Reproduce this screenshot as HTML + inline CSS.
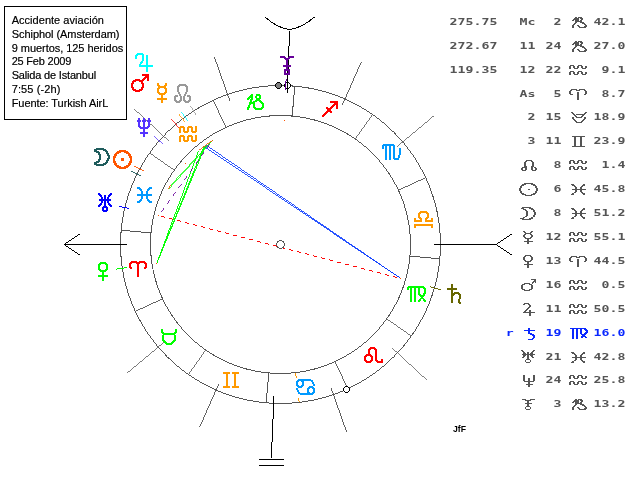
<!DOCTYPE html>
<html lang="es">
<head>
<meta charset="utf-8">
<title>Accidente aviación Schiphol (Amsterdam)</title>
<style>
html,body{margin:0;padding:0;background:#fff;}
body{width:640px;height:480px;overflow:hidden;}
svg{display:block;}
</style>
</head>
<body>
<svg width="640" height="480" viewBox="0 0 640 480" shape-rendering="crispEdges" style="will-change:transform">
<defs><filter id="crisp" x="0" y="0" width="640" height="480" filterUnits="userSpaceOnUse" color-interpolation-filters="sRGB"><feComponentTransfer><feFuncA type="gamma" exponent="0.7" amplitude="1" offset="0"/></feComponentTransfer></filter></defs>
<rect width="640" height="480" fill="#ffffff"/>
<path d="M441,244.5 L440.78,252.85 L440.12,261.17 L439.02,269.45 L437.49,277.66 L435.52,285.78 L433.13,293.78 L430.31,301.65 L427.09,309.36 L423.46,316.89 L419.44,324.22 L415.04,331.33 L410.27,338.2 L405.15,344.81 L399.68,351.14 L393.89,357.19 L387.81,362.94 L381.44,368.37 L374.79,373.47 L367.87,378.21 L360.72,382.58 L353.34,386.57 L345.76,390.18 L338.01,393.38 L330.09,396.18 L322.04,398.55 L313.87,400.51 L305.61,402.04 L297.28,403.13 L288.9,403.79 L280.5,404 L272.1,403.79 L263.72,403.13 L255.39,402.04 L247.13,400.51 L238.96,398.55 L230.91,396.18 L222.99,393.38 L215.24,390.18 L207.66,386.57 L200.28,382.58 L193.13,378.21 L186.21,373.47 L179.56,368.37 L173.19,362.94 L167.11,357.19 L161.32,351.14 L155.85,344.81 L150.73,338.2 L145.96,331.33 L141.56,324.22 L137.54,316.89 L133.91,309.36 L130.69,301.65 L127.87,293.78 L125.48,285.78 L123.51,277.66 L121.98,269.45 L120.88,261.17 L120.22,252.85 L120,244.5 L120.22,236.15 L120.88,227.83 L121.98,219.55 L123.51,211.34 L125.48,203.22 L127.87,195.22 L130.69,187.35 L133.91,179.64 L137.54,172.11 L141.56,164.78 L145.96,157.67 L150.73,150.8 L155.85,144.19 L161.32,137.86 L167.11,131.81 L173.19,126.06 L179.56,120.63 L186.21,115.53 L193.13,110.79 L200.28,106.42 L207.66,102.43 L215.24,98.82 L222.99,95.62 L230.91,92.82 L238.96,90.45 L247.13,88.49 L255.39,86.96 L263.72,85.87 L272.1,85.21 L280.5,85 L288.9,85.21 L297.28,85.87 L305.61,86.96 L313.87,88.49 L322.04,90.45 L330.09,92.82 L338.01,95.62 L345.76,98.82 L353.34,102.43 L360.72,106.42 L367.87,110.79 L374.79,115.53 L381.44,120.63 L387.81,126.06 L393.89,131.81 L399.68,137.86 L405.15,144.19 L410.27,150.8 L415.04,157.67 L419.44,164.78 L423.46,172.11 L427.09,179.64 L430.31,187.35 L433.13,195.22 L435.52,203.22 L437.49,211.34 L439.02,219.55 L440.12,227.83 L440.78,236.15 Z M440,244.5 L439.78,252.79 L439.12,261.07 L438.04,269.29 L436.52,277.45 L434.58,285.53 L432.21,293.48 L429.43,301.31 L426.25,308.98 L422.66,316.48 L418.69,323.78 L414.33,330.87 L409.61,337.72 L404.54,344.31 L399.12,350.64 L393.38,356.67 L387.31,362.38 L380.94,367.76 L374.31,372.8 L367.41,377.49 L360.28,381.82 L352.93,385.77 L345.39,389.33 L337.67,392.5 L329.79,395.26 L321.79,397.61 L313.66,399.54 L305.45,401.05 L297.17,402.13 L288.85,402.78 L280.5,403 L272.15,402.78 L263.83,402.13 L255.55,401.05 L247.34,399.54 L239.21,397.61 L231.21,395.26 L223.33,392.5 L215.61,389.33 L208.07,385.77 L200.72,381.82 L193.59,377.49 L186.69,372.8 L180.06,367.76 L173.69,362.38 L167.62,356.67 L161.88,350.64 L156.46,344.31 L151.39,337.72 L146.67,330.87 L142.31,323.78 L138.34,316.48 L134.75,308.98 L131.57,301.31 L128.79,293.48 L126.42,285.53 L124.48,277.45 L122.96,269.29 L121.88,261.07 L121.22,252.79 L121,244.5 L121.22,236.21 L121.88,227.93 L122.96,219.71 L124.48,211.55 L126.42,203.47 L128.79,195.52 L131.57,187.69 L134.75,180.02 L138.34,172.52 L142.31,165.22 L146.67,158.13 L151.39,151.28 L156.46,144.69 L161.88,138.36 L167.62,132.33 L173.69,126.62 L180.06,121.24 L186.69,116.2 L193.59,111.51 L200.72,107.18 L208.07,103.23 L215.61,99.67 L223.33,96.5 L231.21,93.74 L239.21,91.39 L247.34,89.46 L255.55,87.95 L263.83,86.87 L272.15,86.22 L280.5,86 L288.85,86.22 L297.17,86.87 L305.45,87.95 L313.66,89.46 L321.79,91.39 L329.79,93.74 L337.67,96.5 L345.39,99.67 L352.93,103.23 L360.28,107.18 L367.41,111.51 L374.31,116.2 L380.94,121.24 L387.31,126.62 L393.38,132.33 L399.12,138.36 L404.54,144.69 L409.61,151.28 L414.33,158.13 L418.69,165.22 L422.66,172.52 L426.25,180.02 L429.43,187.69 L432.21,195.52 L434.58,203.47 L436.52,211.55 L438.04,219.71 L439.12,227.93 L439.78,236.21 Z" fill="#555555" fill-rule="evenodd" stroke="none"/>
<path d="M411,244.5 L410.83,251.28 L410.29,258.04 L409.39,264.76 L408.14,271.42 L406.54,278.01 L404.59,284.51 L402.31,290.9 L399.68,297.16 L396.73,303.27 L393.46,309.22 L389.88,314.99 L386,320.57 L381.83,325.93 L377.39,331.07 L372.68,335.97 L367.74,340.65 L362.56,345.06 L357.15,349.2 L351.53,353.05 L345.72,356.6 L339.72,359.84 L333.56,362.77 L327.26,365.37 L320.82,367.64 L314.27,369.58 L307.63,371.16 L300.91,372.4 L294.14,373.29 L287.33,373.83 L280.5,374 L273.67,373.83 L266.86,373.29 L260.09,372.4 L253.37,371.16 L246.73,369.58 L240.18,367.64 L233.74,365.37 L227.44,362.77 L221.28,359.84 L215.28,356.6 L209.47,353.05 L203.85,349.2 L198.44,345.06 L193.26,340.65 L188.32,335.97 L183.61,331.07 L179.17,325.93 L175,320.57 L171.12,314.99 L167.54,309.22 L164.27,303.27 L161.32,297.16 L158.69,290.9 L156.41,284.51 L154.46,278.01 L152.86,271.42 L151.61,264.76 L150.71,258.04 L150.17,251.28 L150,244.5 L150.17,237.72 L150.71,230.96 L151.61,224.24 L152.86,217.58 L154.46,210.99 L156.41,204.49 L158.69,198.1 L161.32,191.84 L164.27,185.73 L167.54,179.78 L171.12,174.01 L175,168.43 L179.17,163.07 L183.61,157.93 L188.32,153.03 L193.26,148.35 L198.44,143.94 L203.85,139.8 L209.47,135.95 L215.28,132.4 L221.28,129.16 L227.44,126.23 L233.74,123.63 L240.18,121.36 L246.73,119.42 L253.37,117.84 L260.09,116.6 L266.86,115.71 L273.67,115.17 L280.5,115 L287.33,115.17 L294.14,115.71 L300.91,116.6 L307.63,117.84 L314.27,119.42 L320.82,121.36 L327.26,123.63 L333.56,126.23 L339.72,129.16 L345.72,132.4 L351.53,135.95 L357.15,139.8 L362.56,143.94 L367.74,148.35 L372.68,153.03 L377.39,157.93 L381.83,163.07 L386,168.43 L389.88,174.01 L393.46,179.78 L396.73,185.73 L399.68,191.84 L402.31,198.1 L404.59,204.49 L406.54,210.99 L408.14,217.58 L409.39,224.24 L410.29,230.96 L410.83,237.72 Z M410,244.5 L409.82,251.22 L409.29,257.93 L408.41,264.6 L407.18,271.22 L405.6,277.76 L403.68,284.21 L401.43,290.56 L398.84,296.78 L395.93,302.86 L392.71,308.78 L389.17,314.53 L385.34,320.08 L381.22,325.43 L376.83,330.57 L372.17,335.46 L367.24,340.08 L362.06,344.44 L356.67,348.53 L351.07,352.33 L345.28,355.84 L339.32,359.04 L333.19,361.92 L326.92,364.49 L320.52,366.73 L314.02,368.63 L307.43,370.2 L300.76,371.42 L294.04,372.29 L287.28,372.82 L280.5,373 L273.72,372.82 L266.96,372.29 L260.24,371.42 L253.57,370.2 L246.98,368.63 L240.48,366.73 L234.08,364.49 L227.81,361.92 L221.68,359.04 L215.72,355.84 L209.93,352.33 L204.33,348.53 L198.94,344.44 L193.76,340.08 L188.83,335.46 L184.17,330.57 L179.78,325.43 L175.66,320.08 L171.83,314.53 L168.29,308.78 L165.07,302.86 L162.16,296.78 L159.57,290.56 L157.32,284.21 L155.4,277.76 L153.82,271.22 L152.59,264.6 L151.71,257.93 L151.18,251.22 L151,244.5 L151.18,237.78 L151.71,231.07 L152.59,224.4 L153.82,217.78 L155.4,211.24 L157.32,204.79 L159.57,198.44 L162.16,192.22 L165.07,186.14 L168.29,180.22 L171.83,174.47 L175.66,168.92 L179.78,163.57 L184.17,158.43 L188.83,153.54 L193.76,148.92 L198.94,144.56 L204.33,140.47 L209.93,136.67 L215.72,133.16 L221.68,129.96 L227.81,127.08 L234.08,124.51 L240.48,122.27 L246.98,120.37 L253.57,118.8 L260.24,117.58 L266.96,116.71 L273.72,116.18 L280.5,116 L287.28,116.18 L294.04,116.71 L300.76,117.58 L307.43,118.8 L314.02,120.37 L320.52,122.27 L326.92,124.51 L333.19,127.08 L339.32,129.96 L345.28,133.16 L351.07,136.67 L356.67,140.47 L362.06,144.56 L367.24,148.92 L372.17,153.54 L376.83,158.43 L381.22,163.57 L385.34,168.92 L389.17,174.47 L392.71,180.22 L395.93,186.14 L398.84,192.22 L401.43,198.44 L403.68,204.79 L405.6,211.24 L407.18,217.78 L408.41,224.4 L409.29,231.07 L409.82,237.78 Z" fill="#555555" fill-rule="evenodd" stroke="none"/>
<line x1="151.02" y1="232.91" x2="121.14" y2="230.24" stroke="#555555" stroke-width="1.001"/>
<line x1="162.54" y1="298.8" x2="135.32" y2="311.33" stroke="#555555" stroke-width="0.913"/>
<line x1="205.67" y1="350.14" x2="188.4" y2="374.51" stroke="#555555" stroke-width="0.821"/>
<line x1="268.84" y1="373.17" x2="266.15" y2="402.86" stroke="#555555" stroke-width="1.001"/>
<line x1="335.14" y1="361.72" x2="347.75" y2="388.77" stroke="#555555" stroke-width="0.911"/>
<line x1="386.8" y1="318.87" x2="411.33" y2="336.03" stroke="#555555" stroke-width="0.824"/>
<line x1="409.98" y1="256.09" x2="439.86" y2="258.76" stroke="#555555" stroke-width="1.001"/>
<line x1="398.46" y1="190.2" x2="425.68" y2="177.67" stroke="#555555" stroke-width="0.913"/>
<line x1="355.33" y1="138.86" x2="372.6" y2="114.49" stroke="#555555" stroke-width="0.821"/>
<line x1="292.16" y1="115.83" x2="294.85" y2="86.14" stroke="#555555" stroke-width="1.001"/>
<line x1="225.86" y1="127.28" x2="213.25" y2="100.23" stroke="#555555" stroke-width="0.911"/>
<line x1="174.2" y1="170.13" x2="149.67" y2="152.97" stroke="#555555" stroke-width="0.824"/>
<line x1="229.92" y1="101.01" x2="214.28" y2="56.64" stroke="#555555" stroke-width="0.948"/>
<line x1="331.08" y1="387.99" x2="346.72" y2="432.36" stroke="#555555" stroke-width="0.948"/>
<line x1="168.59" y1="140.82" x2="133.99" y2="108.77" stroke="#555555" stroke-width="0.739"/>
<line x1="392.41" y1="348.18" x2="427.01" y2="380.23" stroke="#555555" stroke-width="0.739"/>
<line x1="163.59" y1="342.58" x2="127.44" y2="372.9" stroke="#555555" stroke-width="0.771"/>
<line x1="397.41" y1="146.42" x2="433.56" y2="116.1" stroke="#555555" stroke-width="0.771"/>
<line x1="218.89" y1="383.67" x2="199.84" y2="426.7" stroke="#555555" stroke-width="0.919"/>
<line x1="342.11" y1="105.33" x2="361.16" y2="62.3" stroke="#555555" stroke-width="0.919"/>
<line x1="205.8" y1="144.9" x2="156.9" y2="263.07" stroke="#00FF00" stroke-width="0.929"/>
<line x1="203.93" y1="146.31" x2="156.9" y2="263.07" stroke="#00FF00" stroke-width="0.933"/>
<line x1="198.72" y1="150.56" x2="156.9" y2="263.07" stroke="#00FF00" stroke-width="0.942"/>
<line x1="170.52" y1="185.45" x2="212.64" y2="140.18" stroke="#00FF00" stroke-width="0.737"/>
<line x1="168.43" y1="189.48" x2="212.64" y2="140.18" stroke="#00FF00" stroke-width="0.749"/>
<line x1="400.73" y1="278.49" x2="158.92" y2="215.65" stroke="#FF0000" stroke-width="0.973" stroke-dasharray="4.133 4.133" stroke-dashoffset="4.133"/>
<line x1="205.8" y1="144.9" x2="400.73" y2="278.49" stroke="#0033FF" stroke-width="0.83"/>
<line x1="203.93" y1="146.31" x2="400.73" y2="278.49" stroke="#0033FF" stroke-width="0.835"/>
<line x1="158.92" y1="215.65" x2="212.64" y2="140.18" stroke="#660099" stroke-width="0.82" stroke-dasharray="4.91 4.91" stroke-dashoffset="4.91"/>
<line x1="212.64" y1="140.18" x2="198.72" y2="150.56" stroke="#FF5500" stroke-width="0.807"/>
<line x1="170.52" y1="185.45" x2="168.43" y2="189.48" stroke="#FF5500" stroke-width="0.892"/>
<rect x="185" y="163" width="1" height="1" fill="#FF5500"/>
<rect x="158" y="215" width="1" height="1" fill="#FF5500"/>
<rect x="284" y="120" width="1" height="1" fill="#FF5500"/>
<rect x="156" y="263" width="1" height="1" fill="#FF5500"/>
<rect x="400" y="278" width="1" height="1" fill="#FF5500"/>
<line x1="295.68" y1="372.8" x2="296.32" y2="378.23" stroke="#FF9900" stroke-width="0.998"/>
<line x1="298.66" y1="397.97" x2="299.18" y2="402.41" stroke="#FF9900" stroke-width="0.998"/>
<path d="M277,83h3v1h-3zM276,84h5v1h-5zM276,85h5v1h-5zM276,86h5v1h-5zM277,87h3v1h-3z" fill="#808080"/>
<path d="M277,82h3v1h-3zM276,83h1v1h-1zM280,83h1v1h-1zM275,84h1v1h-1zM281,84h1v1h-1zM275,85h1v1h-1zM281,85h1v1h-1zM275,86h1v1h-1zM281,86h1v1h-1zM276,87h1v1h-1zM280,87h1v1h-1zM277,88h3v1h-3z" fill="#000000"/>
<path d="M286,83h3v1h-3zM285,84h5v1h-5zM285,85h5v1h-5zM285,86h5v1h-5zM286,87h3v1h-3z" fill="#ffffff"/>
<path d="M286,82h3v1h-3zM285,83h1v1h-1zM289,83h1v1h-1zM284,84h1v1h-1zM290,84h1v1h-1zM284,85h1v1h-1zM290,85h1v1h-1zM284,86h1v1h-1zM290,86h1v1h-1zM285,87h1v1h-1zM289,87h1v1h-1zM286,88h3v1h-3z" fill="#000000"/>
<path d="M345,387h3v1h-3zM344,388h5v1h-5zM344,389h5v1h-5zM344,390h5v1h-5zM345,391h3v1h-3z" fill="#ffffff"/>
<path d="M345,386h3v1h-3zM344,387h1v1h-1zM348,387h1v1h-1zM343,388h1v1h-1zM349,388h1v1h-1zM343,389h1v1h-1zM349,389h1v1h-1zM343,390h1v1h-1zM349,390h1v1h-1zM344,391h1v1h-1zM348,391h1v1h-1zM345,392h3v1h-3z" fill="#000000"/>
<line x1="126.5" y1="244.5" x2="64" y2="244.5" stroke="#000000" stroke-width="1.005"/>
<line x1="64" y1="244.5" x2="80.5" y2="233.5" stroke="#000000" stroke-width="1.003"/>
<line x1="64" y1="244.5" x2="80.5" y2="255.5" stroke="#000000" stroke-width="1.003"/>
<line x1="433.5" y1="244.5" x2="496" y2="244.5" stroke="#000000" stroke-width="1.005"/>
<line x1="496" y1="244.5" x2="512.5" y2="233.5" stroke="#000000" stroke-width="1.003"/>
<line x1="496" y1="244.5" x2="512.5" y2="255.5" stroke="#000000" stroke-width="1.003"/>
<line x1="287.02" y1="92.59" x2="289.69" y2="30.54" stroke="#000000" stroke-width="1.004"/>
<line x1="273.98" y1="396.41" x2="271.31" y2="458.46" stroke="#000000" stroke-width="1.004"/>
<path d="M265,17 Q277,28 289.5,29.5 Q302,28 314.5,17" fill="none" stroke="#000" stroke-width="1"/>
<line x1="259" y1="459.5" x2="284" y2="459.5" stroke="#000000" stroke-width="1.005"/>
<line x1="259" y1="465.5" x2="284" y2="465.5" stroke="#000000" stroke-width="1.005"/>
<path d="M138,276 L138,264 L136,262 L132,262 L130,264 L130,267 L131,268 M138,264 L140,262 L144,262 L146,264 L146,267 L145,268" fill="none" stroke="#FF0000" stroke-width="2" stroke-linejoin="round" stroke-linecap="square"/>
<path d="M162,330 L162,332 L164,334 L174,334 L176,332 L176,330 M164,334 L163,336 L163,340 L167,344 L171,344 L175,340 L175,336 L174,334" fill="none" stroke="#00FF00" stroke-width="2" stroke-linejoin="round" stroke-linecap="square"/>
<path d="M224,373 L229,373 M224,387 L229,387 M227,373 L227,387 M233,373 L238,373 M233,387 L238,387 M235,373 L235,387" fill="none" stroke="#FF9900" stroke-width="2" stroke-linejoin="round" stroke-linecap="square"/>
<path d="M301,380 L303,382 L303,385 L301,387 L299,387 L297,385 L297,382 L299,380 L310,380 L312,381 L313,383 L314,385 M310,394 L308,392 L308,389 L310,387 L312,387 L314,389 L314,392 L312,394 L301,394 L299,393 L298,391 L297,389" fill="none" stroke="#0099FF" stroke-width="2" stroke-linejoin="round" stroke-linecap="square"/>
<path d="M367,355 L370,355 L372,357 L372,360 L370,362 L367,362 L365,360 L365,357 L367,355 L370,355 M369,355 L369,350 L371,348 L374,348 L376,350 L376,360 L378,362 L382,362 L382,360" fill="none" stroke="#FF0000" stroke-width="2" stroke-linejoin="round" stroke-linecap="square"/>
<path d="M408,289 L408,288 L409,287 L423,287 L425,289 L425,293 L423,296 L419,301 M411,287 L411,301 M415,287 L415,301 M419,287 L419,294 L421,296 L425,301" fill="none" stroke="#00FF00" stroke-width="2" stroke-linejoin="round" stroke-linecap="square"/>
<path d="M415,219 L415,221 L421,221 L421,219 L419,217 L419,214 L421,212 L426,212 L428,214 L428,217 L426,219 L426,221 L432,221 L432,219 M415,227 L415,225 L432,225 L432,227" fill="none" stroke="#FF9900" stroke-width="2" stroke-linejoin="round" stroke-linecap="square"/>
<path d="M383,148 L383,146 L384,145 L393,145 L394,146 L394,158 L395,159 L398,159 L399,157 L400,153 L400,149 M386,145 L386,159 M390,145 L390,159" fill="none" stroke="#0099FF" stroke-width="2" stroke-linejoin="round" stroke-linecap="square"/>
<path d="M323,116 L337,102 M331,102 L337,102 L337,108 M327,108 L331,112" fill="none" stroke="#FF0000" stroke-width="2" stroke-linejoin="round" stroke-linecap="square"/>
<path d="M248,99 L250,97 L252,95 L252,98 L251,101 L248,109 M254,104 L254,107 L256,109 L261,109 L263,107 L263,104 L260,101 L257,99 L256,97 L257,95 L259,95 L260,96 L260,98 L258,100 L252,103" fill="none" stroke="#00FF00" stroke-width="2" stroke-linejoin="round" stroke-linecap="square"/>
<path d="M180,132 L180,128 L181,127 L183,127 L184,128 L184,131 L185,132 L187,132 L188,131 L188,128 L189,127 L191,127 L192,128 L192,131 L193,132 L195,132 L196,131 L196,127 M180,141 L180,137 L181,136 L183,136 L184,137 L184,140 L185,141 L187,141 L188,140 L188,137 L189,136 L191,136 L192,137 L192,140 L193,141 L195,141 L196,140 L196,136" fill="none" stroke="#FF9900" stroke-width="2" stroke-linejoin="round" stroke-linecap="square"/>
<path d="M138,188 L139,188 L141,190 L142,192 L142,198 L141,200 L139,202 L138,202 M151,188 L150,188 L148,190 L147,192 L147,198 L148,200 L150,202 L151,202 M138,195 L151,195" fill="none" stroke="#0099FF" stroke-width="2" stroke-linejoin="round" stroke-linecap="square"/>
<line x1="196.09" y1="114.72" x2="190.11" y2="105.54" stroke="#999999" stroke-width="0.843"/>
<line x1="143.69" y1="171.05" x2="134.01" y2="165.85" stroke="#FF5500" stroke-width="0.886"/>
<line x1="141.09" y1="176.05" x2="131.22" y2="171.21" stroke="#1F5C5C" stroke-width="0.903"/>
<line x1="185.25" y1="122.35" x2="178.51" y2="113.71" stroke="#FF9900" stroke-width="0.794"/>
<line x1="126.75" y1="267.6" x2="115.87" y2="269.23" stroke="#00FF00" stroke-width="0.994"/>
<line x1="178.76" y1="127.63" x2="171.57" y2="119.37" stroke="#FF0000" stroke-width="0.759"/>
<line x1="187.58" y1="120.6" x2="181" y2="111.83" stroke="#00FFFF" stroke-width="0.805"/>
<line x1="430.07" y1="286.78" x2="440.65" y2="289.77" stroke="#666600" stroke-width="0.967"/>
<line x1="129.25" y1="208.61" x2="118.55" y2="206.07" stroke="#0000FF" stroke-width="0.978"/>
<line x1="162.64" y1="143.7" x2="154.3" y2="136.57" stroke="#5533FF" stroke-width="0.765"/>
<line x1="285.72" y1="90.06" x2="286.09" y2="79.13" stroke="#660099" stroke-width="1.004"/>
<path d="M177,96 L176,96 L175,97 L175,100 L177,102 L179,102 L181,100 L181,97 L179,93 L178,91 L178,87 L180,85 L185,85 L187,87 L187,91 L186,93 L184,97 L184,100 L186,102 L188,102 L190,100 L190,97 L189,96 L188,96" fill="none" stroke="#999999" stroke-width="2" stroke-linejoin="round" stroke-linecap="square"/>
<circle cx="122.5" cy="159.5" r="8.5" fill="none" stroke="#FF5500" stroke-width="2.4"/>
<rect x="121" y="158" width="3" height="3" fill="#FF5500"/>
<path d="" fill="none" stroke="#FF5500" stroke-width="2" stroke-linejoin="round" stroke-linecap="square"/>
<path d="M95,151 L95,150 L98,149 L103,149 L106,151 L108,154 L109,157 L108,160 L106,163 L103,165 L98,165 L95,164 L95,163 L98,162 L100,159 L100,155 L98,152 L95,151" fill="none" stroke="#1F5C5C" stroke-width="2" stroke-linejoin="round" stroke-linecap="square"/>
<path d="M160,87 L164,87 L166,89 L166,92 L164,94 L160,94 L158,92 L158,89 L160,87 L164,87 M158,84 L158,85 L160,87 M166,84 L166,85 L164,87 M162,94 L162,102 M158,99 L166,99" fill="none" stroke="#FF9900" stroke-width="2" stroke-linejoin="round" stroke-linecap="square"/>
<path d="M101,263 L105,263 L107,265 L107,269 L105,271 L101,271 L99,269 L99,265 L101,263 L105,263 M103,271 L103,280 M99,276 L107,276" fill="none" stroke="#00FF00" stroke-width="2" stroke-linejoin="round" stroke-linecap="square"/>
<circle cx="137.5" cy="85.5" r="5.5" fill="none" stroke="#FF0000" stroke-width="2.4"/>
<path d="M142,81 L148,75 M143,75 L148,75 L148,80" fill="none" stroke="#FF0000" stroke-width="2" stroke-linejoin="round" stroke-linecap="square"/>
<path d="M136,58 L136,56 L138,54 L142,54 L143,55 L143,60 L140,65 L140,66 L152,66 M147,56 L147,71" fill="none" stroke="#00FFFF" stroke-width="2" stroke-linejoin="round" stroke-linecap="square"/>
<path d="M452,285 L452,302 M448,289 L456,289 M452,296 L454,294 L455,293 L458,293 L460,295 L460,298 L459,300 L459,302 L460,303" fill="none" stroke="#666600" stroke-width="2" stroke-linejoin="round" stroke-linecap="square"/>
<path d="M99,194 L101,196 L102,198 L102,202 L101,204 L99,206 M111,194 L109,196 L108,198 L108,202 L109,204 L111,206 M100,200 L110,200 M105,196 L105,206 M104,207 L106,207 L107,208 L107,210 L106,211 L104,211 L103,210 L103,208 L104,207 L106,207" fill="none" stroke="#0000FF" stroke-width="2" stroke-linejoin="round" stroke-linecap="square"/>
<path d="M139,119 L139,126 L141,128 L147,128 L149,126 L149,119 M144,119 L144,136 M141,133 L147,133 M138,121 L140,121 M143,121 L145,121 M148,121 L150,121" fill="none" stroke="#5533FF" stroke-width="2" stroke-linejoin="round" stroke-linecap="square"/>
<path d="M281,57 L284,57 L287,60 L290,57 L293,57 M287,60 L287,69 M284,66 L290,66 M285,70 L289,70 L289,74 L285,74 L285,70 L289,70" fill="none" stroke="#660099" stroke-width="2" stroke-linejoin="round" stroke-linecap="square"/>
<path d="M278,241h5v1h-5zM278,242h5v1h-5zM277,243h7v1h-7zM277,244h7v1h-7zM277,245h7v1h-7zM278,246h5v1h-5zM278,247h5v1h-5z" fill="#ffffff"/>
<path d="M279,240h3v1h-3zM277,241h2v1h-2zM282,241h2v1h-2zM277,242h1v1h-1zM283,242h1v1h-1zM276,243h1v1h-1zM284,243h1v1h-1zM276,244h1v1h-1zM284,244h1v1h-1zM276,245h1v1h-1zM284,245h1v1h-1zM277,246h1v1h-1zM283,246h1v1h-1zM277,247h2v1h-2zM282,247h2v1h-2zM279,248h3v1h-3z" fill="#555555"/>
<rect x="4.5" y="6.5" width="122" height="113" fill="#ffffff" stroke="#000" stroke-width="1"/>
<g font-family="'Liberation Sans', Arial, sans-serif" font-size="11px" fill="#000" filter="url(#crisp)">
<text x="11.7" y="24" textLength="92.2" lengthAdjust="spacing">Accidente aviación</text>
<text x="11.7" y="37.83" textLength="107.8" lengthAdjust="spacing">Schiphol (Amsterdam)</text>
<text x="11.7" y="51.66" textLength="111.5" lengthAdjust="spacing">9 muertos, 125 heridos</text>
<text x="11.7" y="65.49" textLength="59.6" lengthAdjust="spacing">25 Feb 2009</text>
<text x="11.7" y="79.32" textLength="84.45" lengthAdjust="spacing">Salida de Istanbul</text>
<text x="11.7" y="93.15" textLength="48.7" lengthAdjust="spacing">7:55 (-2h)</text>
<text x="11.7" y="106.98" textLength="96.6" lengthAdjust="spacing">Fuente: Turkish AirL</text>
</g>
<g font-family="'DejaVu Sans Mono', 'Liberation Mono', monospace" font-size="9.3px" font-weight="bold">
<text transform="scale(1.42,1)" x="316.48 322.11 327.75 333.38 339.01 344.65" y="25" fill="#555555">275.75</text>
<text transform="scale(1.42,1)" x="365.77 371.41" y="25" fill="#555555">Mc</text>
<text transform="scale(1.42,1)" x="389.72" y="25" fill="#555555">2</text>
<text transform="scale(1.42,1)" x="417.89 423.52 429.15 434.79" y="25" fill="#555555">42.1</text>
<text transform="scale(1.42,1)" x="316.48 322.11 327.75 333.38 339.01 344.65" y="49" fill="#555555">272.67</text>
<text transform="scale(1.42,1)" x="365.77 371.41" y="49" fill="#555555">11</text>
<text transform="scale(1.42,1)" x="384.08 389.72" y="49" fill="#555555">24</text>
<text transform="scale(1.42,1)" x="417.89 423.52 429.15 434.79" y="49" fill="#555555">27.0</text>
<text transform="scale(1.42,1)" x="316.48 322.11 327.75 333.38 339.01 344.65" y="73" fill="#555555">119.35</text>
<text transform="scale(1.42,1)" x="365.77 371.41" y="73" fill="#555555">12</text>
<text transform="scale(1.42,1)" x="384.08 389.72" y="73" fill="#555555">22</text>
<text transform="scale(1.42,1)" x="423.52 429.15 434.79" y="73" fill="#555555">9.1</text>
<text transform="scale(1.42,1)" x="365.77 371.41" y="97" fill="#555555">As</text>
<text transform="scale(1.42,1)" x="389.72" y="97" fill="#555555">5</text>
<text transform="scale(1.42,1)" x="423.52 429.15 434.79" y="97" fill="#555555">8.7</text>
<text transform="scale(1.42,1)" x="371.41" y="120" fill="#555555">2</text>
<text transform="scale(1.42,1)" x="384.08 389.72" y="120" fill="#555555">15</text>
<text transform="scale(1.42,1)" x="417.89 423.52 429.15 434.79" y="120" fill="#555555">18.9</text>
<text transform="scale(1.42,1)" x="371.41" y="144" fill="#555555">3</text>
<text transform="scale(1.42,1)" x="384.08 389.72" y="144" fill="#555555">11</text>
<text transform="scale(1.42,1)" x="417.89 423.52 429.15 434.79" y="144" fill="#555555">23.9</text>
<text transform="scale(1.42,1)" x="389.72" y="168" fill="#555555">8</text>
<text transform="scale(1.42,1)" x="423.52 429.15 434.79" y="168" fill="#555555">1.4</text>
<text transform="scale(1.42,1)" x="389.72" y="192" fill="#555555">6</text>
<text transform="scale(1.42,1)" x="417.89 423.52 429.15 434.79" y="192" fill="#555555">45.8</text>
<text transform="scale(1.42,1)" x="389.72" y="216" fill="#555555">8</text>
<text transform="scale(1.42,1)" x="417.89 423.52 429.15 434.79" y="216" fill="#555555">51.2</text>
<text transform="scale(1.42,1)" x="384.08 389.72" y="240" fill="#555555">12</text>
<text transform="scale(1.42,1)" x="417.89 423.52 429.15 434.79" y="240" fill="#555555">55.1</text>
<text transform="scale(1.42,1)" x="384.08 389.72" y="264" fill="#555555">13</text>
<text transform="scale(1.42,1)" x="417.89 423.52 429.15 434.79" y="264" fill="#555555">44.5</text>
<text transform="scale(1.42,1)" x="384.08 389.72" y="288" fill="#555555">16</text>
<text transform="scale(1.42,1)" x="423.52 429.15 434.79" y="288" fill="#555555">0.5</text>
<text transform="scale(1.42,1)" x="384.08 389.72" y="312" fill="#555555">11</text>
<text transform="scale(1.42,1)" x="417.89 423.52 429.15 434.79" y="312" fill="#555555">50.5</text>
<text transform="scale(1.42,1)" x="356.2" y="336" fill="#0A28FF">r</text>
<text transform="scale(1.42,1)" x="384.08 389.72" y="336" fill="#0A28FF">19</text>
<text transform="scale(1.42,1)" x="417.89 423.52 429.15 434.79" y="336" fill="#0A28FF">16.0</text>
<text transform="scale(1.42,1)" x="384.08 389.72" y="360" fill="#555555">21</text>
<text transform="scale(1.42,1)" x="417.89 423.52 429.15 434.79" y="360" fill="#555555">42.8</text>
<text transform="scale(1.42,1)" x="384.08 389.72" y="383" fill="#555555">24</text>
<text transform="scale(1.42,1)" x="417.89 423.52 429.15 434.79" y="383" fill="#555555">25.8</text>
<text transform="scale(1.42,1)" x="389.72" y="407" fill="#555555">3</text>
<text transform="scale(1.42,1)" x="417.89 423.52 429.15 434.79" y="407" fill="#555555">13.2</text>
</g>
<path d="M571.5,21.5 L575.5,17.5 L575.5,22.5 L572.5,25.5 L572.5,27.5 M572.5,21.5 L576.5,17.5 L576.5,22.5 L573.5,25.5 L573.5,27.5 M575.5,21.5 L577.5,21.5 L577.5,18.5 L578.5,17.5 L580.5,17.5 L581.5,19.5 L579.5,21.5 L583.5,23.5 L585.5,25.5 L584.5,27.5 L579.5,27.5 L577.5,25.5 M576.5,21.5 L578.5,21.5 L578.5,18.5 L579.5,17.5 L581.5,17.5 L582.5,19.5 L580.5,21.5 L584.5,23.5 L586.5,25.5 L585.5,27.5 L580.5,27.5 L578.5,25.5" fill="none" stroke="#555555" stroke-width="1" stroke-linejoin="miter" stroke-linecap="butt"/>
<path d="M571.5,45.5 L575.5,41.5 L575.5,46.5 L572.5,49.5 L572.5,51.5 M572.5,45.5 L576.5,41.5 L576.5,46.5 L573.5,49.5 L573.5,51.5 M575.5,45.5 L577.5,45.5 L577.5,42.5 L578.5,41.5 L580.5,41.5 L581.5,43.5 L579.5,45.5 L583.5,47.5 L585.5,49.5 L584.5,51.5 L579.5,51.5 L577.5,49.5 M576.5,45.5 L578.5,45.5 L578.5,42.5 L579.5,41.5 L581.5,41.5 L582.5,43.5 L580.5,45.5 L584.5,47.5 L586.5,49.5 L585.5,51.5 L580.5,51.5 L578.5,49.5" fill="none" stroke="#555555" stroke-width="1" stroke-linejoin="miter" stroke-linecap="butt"/>
<path d="M569.5,68.5 L569.5,66.5 L570.5,65.5 L572.5,65.5 L573.5,66.5 L573.5,67.5 L574.5,68.5 L576.5,68.5 L577.5,67.5 L577.5,66.5 L578.5,65.5 L580.5,65.5 L581.5,66.5 L581.5,67.5 L582.5,68.5 L584.5,68.5 L585.5,67.5 L585.5,65.5 M570.5,68.5 L570.5,66.5 L571.5,65.5 L573.5,65.5 L574.5,66.5 L574.5,67.5 L575.5,68.5 L577.5,68.5 L578.5,67.5 L578.5,66.5 L579.5,65.5 L581.5,65.5 L582.5,66.5 L582.5,67.5 L583.5,68.5 L585.5,68.5 L586.5,67.5 L586.5,65.5 M569.5,74.5 L569.5,72.5 L570.5,71.5 L572.5,71.5 L573.5,72.5 L573.5,73.5 L574.5,74.5 L576.5,74.5 L577.5,73.5 L577.5,72.5 L578.5,71.5 L580.5,71.5 L581.5,72.5 L581.5,73.5 L582.5,74.5 L584.5,74.5 L585.5,73.5 L585.5,71.5 M570.5,74.5 L570.5,72.5 L571.5,71.5 L573.5,71.5 L574.5,72.5 L574.5,73.5 L575.5,74.5 L577.5,74.5 L578.5,73.5 L578.5,72.5 L579.5,71.5 L581.5,71.5 L582.5,72.5 L582.5,73.5 L583.5,74.5 L585.5,74.5 L586.5,73.5 L586.5,71.5" fill="none" stroke="#555555" stroke-width="1" stroke-linejoin="miter" stroke-linecap="butt"/>
<path d="M577.5,91.5 L575.5,89.5 L571.5,89.5 L569.5,91.5 L569.5,93.5 L570.5,94.5 L571.5,94.5 M578.5,91.5 L576.5,89.5 L572.5,89.5 L570.5,91.5 L570.5,93.5 L571.5,94.5 L572.5,94.5 M577.5,91.5 L579.5,89.5 L583.5,89.5 L585.5,91.5 L585.5,93.5 L584.5,94.5 L583.5,94.5 M578.5,91.5 L580.5,89.5 L584.5,89.5 L586.5,91.5 L586.5,93.5 L585.5,94.5 L584.5,94.5 M577.5,91.5 L577.5,99.5 M578.5,91.5 L578.5,99.5" fill="none" stroke="#555555" stroke-width="1" stroke-linejoin="miter" stroke-linecap="butt"/>
<path d="M571.5,112.5 L576.5,117.5 L580.5,117.5 L585.5,112.5 M572.5,112.5 L577.5,117.5 L581.5,117.5 L586.5,112.5 M575.5,114.5 L581.5,114.5 M576.5,114.5 L582.5,114.5 M572.5,116.5 L572.5,118.5 L576.5,122.5 L580.5,122.5 L584.5,118.5 L584.5,116.5 M573.5,116.5 L573.5,118.5 L577.5,122.5 L581.5,122.5 L585.5,118.5 L585.5,116.5" fill="none" stroke="#555555" stroke-width="1" stroke-linejoin="miter" stroke-linecap="butt"/>
<path d="M571.5,136.5 L583.5,136.5 M572.5,136.5 L584.5,136.5 M571.5,146.5 L583.5,146.5 M572.5,146.5 L584.5,146.5 M574.5,136.5 L574.5,146.5 M575.5,136.5 L575.5,146.5 M580.5,136.5 L580.5,146.5 M581.5,136.5 L581.5,146.5" fill="none" stroke="#555555" stroke-width="1" stroke-linejoin="miter" stroke-linecap="butt"/>
<path d="M523.5,167.5 L522.5,167.5 L521.5,168.5 L521.5,169.5 L522.5,170.5 L524.5,170.5 L525.5,169.5 L525.5,167.5 L524.5,165.5 L524.5,162.5 L526.5,160.5 L530.5,160.5 L532.5,162.5 L532.5,165.5 L531.5,167.5 L531.5,169.5 L532.5,170.5 L534.5,170.5 L535.5,169.5 L535.5,168.5 L534.5,167.5 L533.5,167.5 M524.5,167.5 L523.5,167.5 L522.5,168.5 L522.5,169.5 L523.5,170.5 L525.5,170.5 L526.5,169.5 L526.5,167.5 L525.5,165.5 L525.5,162.5 L527.5,160.5 L531.5,160.5 L533.5,162.5 L533.5,165.5 L532.5,167.5 L532.5,169.5 L533.5,170.5 L535.5,170.5 L536.5,169.5 L536.5,168.5 L535.5,167.5 L534.5,167.5" fill="none" stroke="#555555" stroke-width="1" stroke-linejoin="miter" stroke-linecap="butt"/>
<path d="M569.5,163.5 L569.5,161.5 L570.5,160.5 L572.5,160.5 L573.5,161.5 L573.5,162.5 L574.5,163.5 L576.5,163.5 L577.5,162.5 L577.5,161.5 L578.5,160.5 L580.5,160.5 L581.5,161.5 L581.5,162.5 L582.5,163.5 L584.5,163.5 L585.5,162.5 L585.5,160.5 M570.5,163.5 L570.5,161.5 L571.5,160.5 L573.5,160.5 L574.5,161.5 L574.5,162.5 L575.5,163.5 L577.5,163.5 L578.5,162.5 L578.5,161.5 L579.5,160.5 L581.5,160.5 L582.5,161.5 L582.5,162.5 L583.5,163.5 L585.5,163.5 L586.5,162.5 L586.5,160.5 M569.5,169.5 L569.5,167.5 L570.5,166.5 L572.5,166.5 L573.5,167.5 L573.5,168.5 L574.5,169.5 L576.5,169.5 L577.5,168.5 L577.5,167.5 L578.5,166.5 L580.5,166.5 L581.5,167.5 L581.5,168.5 L582.5,169.5 L584.5,169.5 L585.5,168.5 L585.5,166.5 M570.5,169.5 L570.5,167.5 L571.5,166.5 L573.5,166.5 L574.5,167.5 L574.5,168.5 L575.5,169.5 L577.5,169.5 L578.5,168.5 L578.5,167.5 L579.5,166.5 L581.5,166.5 L582.5,167.5 L582.5,168.5 L583.5,169.5 L585.5,169.5 L586.5,168.5 L586.5,166.5" fill="none" stroke="#555555" stroke-width="1" stroke-linejoin="miter" stroke-linecap="butt"/>
<ellipse cx="528" cy="189.5" rx="8.5" ry="6" fill="none" stroke="#555555" stroke-width="1"/>
<ellipse cx="529" cy="189.5" rx="8.5" ry="6" fill="none" stroke="#555555" stroke-width="1"/>
<rect x="528" y="189" width="2" height="1" fill="#555555"/>
<path d="" fill="none" stroke="#555555" stroke-width="1" stroke-linejoin="miter" stroke-linecap="butt"/>
<path d="M571.5,189.5 L584.5,189.5 M572.5,189.5 L585.5,189.5 M571.5,184.5 L573.5,185.5 L575.5,187.5 L575.5,191.5 L573.5,193.5 L571.5,194.5 M572.5,184.5 L574.5,185.5 L576.5,187.5 L576.5,191.5 L574.5,193.5 L572.5,194.5 M584.5,184.5 L582.5,185.5 L580.5,187.5 L580.5,191.5 L582.5,193.5 L584.5,194.5 M585.5,184.5 L583.5,185.5 L581.5,187.5 L581.5,191.5 L583.5,193.5 L585.5,194.5" fill="none" stroke="#555555" stroke-width="1" stroke-linejoin="miter" stroke-linecap="butt"/>
<path d="M521.5,208.5 L523.5,207.5 L528.5,207.5 L532.5,209.5 L534.5,212.5 L534.5,214.5 L532.5,217.5 L528.5,219.5 L523.5,219.5 L521.5,218.5 L524.5,217.5 L526.5,215.5 L526.5,211.5 L524.5,209.5 L521.5,208.5 M522.5,208.5 L524.5,207.5 L529.5,207.5 L533.5,209.5 L535.5,212.5 L535.5,214.5 L533.5,217.5 L529.5,219.5 L524.5,219.5 L522.5,218.5 L525.5,217.5 L527.5,215.5 L527.5,211.5 L525.5,209.5 L522.5,208.5" fill="none" stroke="#555555" stroke-width="1" stroke-linejoin="miter" stroke-linecap="butt"/>
<path d="M571.5,213.5 L584.5,213.5 M572.5,213.5 L585.5,213.5 M571.5,208.5 L573.5,209.5 L575.5,211.5 L575.5,215.5 L573.5,217.5 L571.5,218.5 M572.5,208.5 L574.5,209.5 L576.5,211.5 L576.5,215.5 L574.5,217.5 L572.5,218.5 M584.5,208.5 L582.5,209.5 L580.5,211.5 L580.5,215.5 L582.5,217.5 L584.5,218.5 M585.5,208.5 L583.5,209.5 L581.5,211.5 L581.5,215.5 L583.5,217.5 L585.5,218.5" fill="none" stroke="#555555" stroke-width="1" stroke-linejoin="miter" stroke-linecap="butt"/>
<path d="M523.5,231.5 L525.5,233.5 L529.5,233.5 L531.5,231.5 M524.5,231.5 L526.5,233.5 L530.5,233.5 L532.5,231.5 M525.5,233.5 L523.5,235.5 L523.5,236.5 L525.5,238.5 L529.5,238.5 L531.5,236.5 L531.5,235.5 L529.5,233.5 M526.5,233.5 L524.5,235.5 L524.5,236.5 L526.5,238.5 L530.5,238.5 L532.5,236.5 L532.5,235.5 L530.5,233.5 M527.5,238.5 L527.5,243.5 M528.5,238.5 L528.5,243.5 M523.5,241.5 L531.5,241.5 M524.5,241.5 L532.5,241.5" fill="none" stroke="#555555" stroke-width="1" stroke-linejoin="miter" stroke-linecap="butt"/>
<path d="M569.5,235.5 L569.5,233.5 L570.5,232.5 L572.5,232.5 L573.5,233.5 L573.5,234.5 L574.5,235.5 L576.5,235.5 L577.5,234.5 L577.5,233.5 L578.5,232.5 L580.5,232.5 L581.5,233.5 L581.5,234.5 L582.5,235.5 L584.5,235.5 L585.5,234.5 L585.5,232.5 M570.5,235.5 L570.5,233.5 L571.5,232.5 L573.5,232.5 L574.5,233.5 L574.5,234.5 L575.5,235.5 L577.5,235.5 L578.5,234.5 L578.5,233.5 L579.5,232.5 L581.5,232.5 L582.5,233.5 L582.5,234.5 L583.5,235.5 L585.5,235.5 L586.5,234.5 L586.5,232.5 M569.5,241.5 L569.5,239.5 L570.5,238.5 L572.5,238.5 L573.5,239.5 L573.5,240.5 L574.5,241.5 L576.5,241.5 L577.5,240.5 L577.5,239.5 L578.5,238.5 L580.5,238.5 L581.5,239.5 L581.5,240.5 L582.5,241.5 L584.5,241.5 L585.5,240.5 L585.5,238.5 M570.5,241.5 L570.5,239.5 L571.5,238.5 L573.5,238.5 L574.5,239.5 L574.5,240.5 L575.5,241.5 L577.5,241.5 L578.5,240.5 L578.5,239.5 L579.5,238.5 L581.5,238.5 L582.5,239.5 L582.5,240.5 L583.5,241.5 L585.5,241.5 L586.5,240.5 L586.5,238.5" fill="none" stroke="#555555" stroke-width="1" stroke-linejoin="miter" stroke-linecap="butt"/>
<path d="M525.5,255.5 L529.5,255.5 L531.5,257.5 L531.5,259.5 L529.5,261.5 L525.5,261.5 L523.5,259.5 L523.5,257.5 L525.5,255.5 M526.5,255.5 L530.5,255.5 L532.5,257.5 L532.5,259.5 L530.5,261.5 L526.5,261.5 L524.5,259.5 L524.5,257.5 L526.5,255.5 M527.5,261.5 L527.5,267.5 M528.5,261.5 L528.5,267.5 M523.5,264.5 L531.5,264.5 M524.5,264.5 L532.5,264.5" fill="none" stroke="#555555" stroke-width="1" stroke-linejoin="miter" stroke-linecap="butt"/>
<path d="M577.5,258.5 L575.5,256.5 L571.5,256.5 L569.5,258.5 L569.5,260.5 L570.5,261.5 L571.5,261.5 M578.5,258.5 L576.5,256.5 L572.5,256.5 L570.5,258.5 L570.5,260.5 L571.5,261.5 L572.5,261.5 M577.5,258.5 L579.5,256.5 L583.5,256.5 L585.5,258.5 L585.5,260.5 L584.5,261.5 L583.5,261.5 M578.5,258.5 L580.5,256.5 L584.5,256.5 L586.5,258.5 L586.5,260.5 L585.5,261.5 L584.5,261.5 M577.5,258.5 L577.5,266.5 M578.5,258.5 L578.5,266.5" fill="none" stroke="#555555" stroke-width="1" stroke-linejoin="miter" stroke-linecap="butt"/>
<ellipse cx="526.5" cy="287" rx="5" ry="3.5" fill="none" stroke="#555555" stroke-width="1"/>
<ellipse cx="527.5" cy="287" rx="5" ry="3.5" fill="none" stroke="#555555" stroke-width="1"/>
<path d="M531.5,284.5 L535.5,279.5 M530.5,279.5 L535.5,279.5 L535.5,282.5" fill="none" stroke="#555555" stroke-width="1" stroke-linejoin="miter" stroke-linecap="butt"/>
<path d="M569.5,283.5 L569.5,281.5 L570.5,280.5 L572.5,280.5 L573.5,281.5 L573.5,282.5 L574.5,283.5 L576.5,283.5 L577.5,282.5 L577.5,281.5 L578.5,280.5 L580.5,280.5 L581.5,281.5 L581.5,282.5 L582.5,283.5 L584.5,283.5 L585.5,282.5 L585.5,280.5 M570.5,283.5 L570.5,281.5 L571.5,280.5 L573.5,280.5 L574.5,281.5 L574.5,282.5 L575.5,283.5 L577.5,283.5 L578.5,282.5 L578.5,281.5 L579.5,280.5 L581.5,280.5 L582.5,281.5 L582.5,282.5 L583.5,283.5 L585.5,283.5 L586.5,282.5 L586.5,280.5 M569.5,289.5 L569.5,287.5 L570.5,286.5 L572.5,286.5 L573.5,287.5 L573.5,288.5 L574.5,289.5 L576.5,289.5 L577.5,288.5 L577.5,287.5 L578.5,286.5 L580.5,286.5 L581.5,287.5 L581.5,288.5 L582.5,289.5 L584.5,289.5 L585.5,288.5 L585.5,286.5 M570.5,289.5 L570.5,287.5 L571.5,286.5 L573.5,286.5 L574.5,287.5 L574.5,288.5 L575.5,289.5 L577.5,289.5 L578.5,288.5 L578.5,287.5 L579.5,286.5 L581.5,286.5 L582.5,287.5 L582.5,288.5 L583.5,289.5 L585.5,289.5 L586.5,288.5 L586.5,286.5" fill="none" stroke="#555555" stroke-width="1" stroke-linejoin="miter" stroke-linecap="butt"/>
<path d="M522.5,305.5 L524.5,303.5 L527.5,303.5 L529.5,305.5 L529.5,306.5 L523.5,312.5 L533.5,312.5 M523.5,305.5 L525.5,303.5 L528.5,303.5 L530.5,305.5 L530.5,306.5 L524.5,312.5 L534.5,312.5 M529.5,309.5 L529.5,315.5 M530.5,309.5 L530.5,315.5" fill="none" stroke="#555555" stroke-width="1" stroke-linejoin="miter" stroke-linecap="butt"/>
<path d="M569.5,307.5 L569.5,305.5 L570.5,304.5 L572.5,304.5 L573.5,305.5 L573.5,306.5 L574.5,307.5 L576.5,307.5 L577.5,306.5 L577.5,305.5 L578.5,304.5 L580.5,304.5 L581.5,305.5 L581.5,306.5 L582.5,307.5 L584.5,307.5 L585.5,306.5 L585.5,304.5 M570.5,307.5 L570.5,305.5 L571.5,304.5 L573.5,304.5 L574.5,305.5 L574.5,306.5 L575.5,307.5 L577.5,307.5 L578.5,306.5 L578.5,305.5 L579.5,304.5 L581.5,304.5 L582.5,305.5 L582.5,306.5 L583.5,307.5 L585.5,307.5 L586.5,306.5 L586.5,304.5 M569.5,313.5 L569.5,311.5 L570.5,310.5 L572.5,310.5 L573.5,311.5 L573.5,312.5 L574.5,313.5 L576.5,313.5 L577.5,312.5 L577.5,311.5 L578.5,310.5 L580.5,310.5 L581.5,311.5 L581.5,312.5 L582.5,313.5 L584.5,313.5 L585.5,312.5 L585.5,310.5 M570.5,313.5 L570.5,311.5 L571.5,310.5 L573.5,310.5 L574.5,311.5 L574.5,312.5 L575.5,313.5 L577.5,313.5 L578.5,312.5 L578.5,311.5 L579.5,310.5 L581.5,310.5 L582.5,311.5 L582.5,312.5 L583.5,313.5 L585.5,313.5 L586.5,312.5 L586.5,310.5" fill="none" stroke="#555555" stroke-width="1" stroke-linejoin="miter" stroke-linecap="butt"/>
<path d="M528.5,327.5 L528.5,333.5 L532.5,334.5 L533.5,336.5 L533.5,337.5 L531.5,339.5 L527.5,339.5 M529.5,327.5 L529.5,333.5 L533.5,334.5 L534.5,336.5 L534.5,337.5 L532.5,339.5 L528.5,339.5 M523.5,330.5 L533.5,330.5 M524.5,330.5 L534.5,330.5" fill="none" stroke="#0A28FF" stroke-width="1" stroke-linejoin="miter" stroke-linecap="butt"/>
<path d="M569.5,329.5 L570.5,328.5 L583.5,328.5 L585.5,329.5 L586.5,331.5 L585.5,333.5 L583.5,334.5 L580.5,338.5 M570.5,329.5 L571.5,328.5 L584.5,328.5 L586.5,329.5 L587.5,331.5 L586.5,333.5 L584.5,334.5 L581.5,338.5 M572.5,328.5 L572.5,338.5 M573.5,328.5 L573.5,338.5 M576.5,328.5 L576.5,338.5 M577.5,328.5 L577.5,338.5 M580.5,328.5 L580.5,333.5 L583.5,335.5 L586.5,338.5 M581.5,328.5 L581.5,333.5 L584.5,335.5 L587.5,338.5" fill="none" stroke="#0A28FF" stroke-width="1" stroke-linejoin="miter" stroke-linecap="butt"/>
<path d="M521.5,350.5 L523.5,352.5 L524.5,354.5 L523.5,356.5 L521.5,358.5 M522.5,350.5 L524.5,352.5 L525.5,354.5 L524.5,356.5 L522.5,358.5 M533.5,350.5 L531.5,352.5 L530.5,354.5 L531.5,356.5 L533.5,358.5 M534.5,350.5 L532.5,352.5 L531.5,354.5 L532.5,356.5 L534.5,358.5 M521.5,354.5 L533.5,354.5 M522.5,354.5 L534.5,354.5 M527.5,351.5 L527.5,359.5 M528.5,351.5 L528.5,359.5 M526.5,359.5 L529.5,359.5 L530.5,360.5 L530.5,361.5 L529.5,362.5 L526.5,362.5 L525.5,361.5 L525.5,360.5 L526.5,359.5" fill="none" stroke="#555555" stroke-width="1" stroke-linejoin="miter" stroke-linecap="butt"/>
<path d="M571.5,357.5 L584.5,357.5 M572.5,357.5 L585.5,357.5 M571.5,352.5 L573.5,353.5 L575.5,355.5 L575.5,359.5 L573.5,361.5 L571.5,362.5 M572.5,352.5 L574.5,353.5 L576.5,355.5 L576.5,359.5 L574.5,361.5 L572.5,362.5 M584.5,352.5 L582.5,353.5 L580.5,355.5 L580.5,359.5 L582.5,361.5 L584.5,362.5 M585.5,352.5 L583.5,353.5 L581.5,355.5 L581.5,359.5 L583.5,361.5 L585.5,362.5" fill="none" stroke="#555555" stroke-width="1" stroke-linejoin="miter" stroke-linecap="butt"/>
<path d="M523.5,374.5 L523.5,380.5 L524.5,381.5 L532.5,381.5 L533.5,380.5 L533.5,374.5 M524.5,374.5 L524.5,380.5 L525.5,381.5 L533.5,381.5 L534.5,380.5 L534.5,374.5 M528.5,377.5 L528.5,386.5 M529.5,377.5 L529.5,386.5 M525.5,384.5 L531.5,384.5 M526.5,384.5 L532.5,384.5" fill="none" stroke="#555555" stroke-width="1" stroke-linejoin="miter" stroke-linecap="butt"/>
<path d="M569.5,378.5 L569.5,376.5 L570.5,375.5 L572.5,375.5 L573.5,376.5 L573.5,377.5 L574.5,378.5 L576.5,378.5 L577.5,377.5 L577.5,376.5 L578.5,375.5 L580.5,375.5 L581.5,376.5 L581.5,377.5 L582.5,378.5 L584.5,378.5 L585.5,377.5 L585.5,375.5 M570.5,378.5 L570.5,376.5 L571.5,375.5 L573.5,375.5 L574.5,376.5 L574.5,377.5 L575.5,378.5 L577.5,378.5 L578.5,377.5 L578.5,376.5 L579.5,375.5 L581.5,375.5 L582.5,376.5 L582.5,377.5 L583.5,378.5 L585.5,378.5 L586.5,377.5 L586.5,375.5 M569.5,384.5 L569.5,382.5 L570.5,381.5 L572.5,381.5 L573.5,382.5 L573.5,383.5 L574.5,384.5 L576.5,384.5 L577.5,383.5 L577.5,382.5 L578.5,381.5 L580.5,381.5 L581.5,382.5 L581.5,383.5 L582.5,384.5 L584.5,384.5 L585.5,383.5 L585.5,381.5 M570.5,384.5 L570.5,382.5 L571.5,381.5 L573.5,381.5 L574.5,382.5 L574.5,383.5 L575.5,384.5 L577.5,384.5 L578.5,383.5 L578.5,382.5 L579.5,381.5 L581.5,381.5 L582.5,382.5 L582.5,383.5 L583.5,384.5 L585.5,384.5 L586.5,383.5 L586.5,381.5" fill="none" stroke="#555555" stroke-width="1" stroke-linejoin="miter" stroke-linecap="butt"/>
<path d="M521.5,399.5 L524.5,399.5 L527.5,401.5 L530.5,399.5 L533.5,399.5 M522.5,399.5 L525.5,399.5 L528.5,401.5 L531.5,399.5 L534.5,399.5 M527.5,401.5 L527.5,406.5 M528.5,401.5 L528.5,406.5 M524.5,403.5 L530.5,403.5 M525.5,403.5 L531.5,403.5 M526.5,406.5 L529.5,406.5 L530.5,407.5 L530.5,408.5 L529.5,409.5 L526.5,409.5 L525.5,408.5 L525.5,407.5 L526.5,406.5" fill="none" stroke="#555555" stroke-width="1" stroke-linejoin="miter" stroke-linecap="butt"/>
<path d="M571.5,403.5 L575.5,399.5 L575.5,404.5 L572.5,407.5 L572.5,409.5 M572.5,403.5 L576.5,399.5 L576.5,404.5 L573.5,407.5 L573.5,409.5 M575.5,403.5 L577.5,403.5 L577.5,400.5 L578.5,399.5 L580.5,399.5 L581.5,401.5 L579.5,403.5 L583.5,405.5 L585.5,407.5 L584.5,409.5 L579.5,409.5 L577.5,407.5 M576.5,403.5 L578.5,403.5 L578.5,400.5 L579.5,399.5 L581.5,399.5 L582.5,401.5 L580.5,403.5 L584.5,405.5 L586.5,407.5 L585.5,409.5 L580.5,409.5 L578.5,407.5" fill="none" stroke="#555555" stroke-width="1" stroke-linejoin="miter" stroke-linecap="butt"/>
<text x="453" y="432" font-family="'Liberation Sans', sans-serif" font-size="9.6px" font-weight="bold" fill="#000" textLength="13" lengthAdjust="spacingAndGlyphs">JfF</text>
</svg>
</body>
</html>
